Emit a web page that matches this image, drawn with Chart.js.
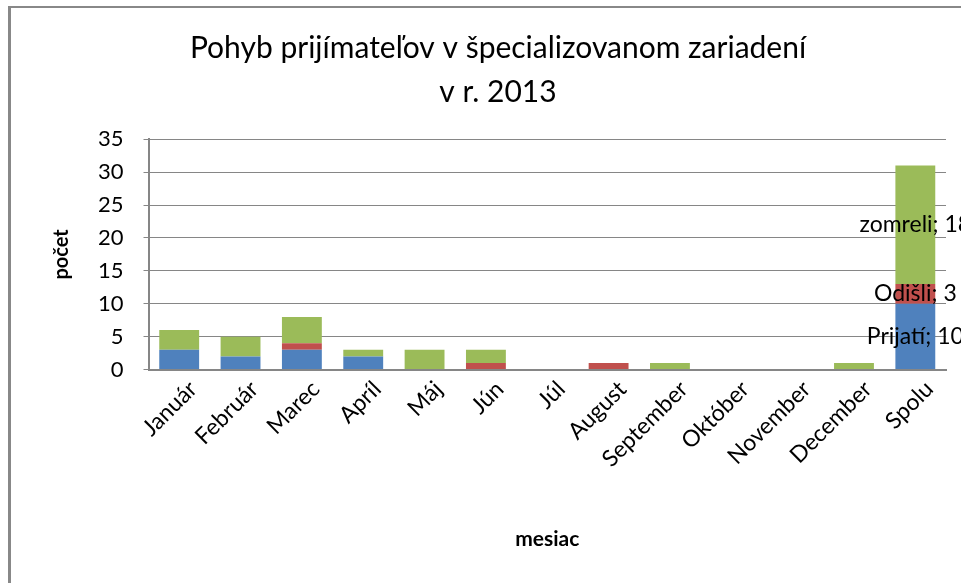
<!DOCTYPE html>
<html>
<head>
<meta charset="utf-8">
<script src="https://cdn.jsdelivr.net/npm/chart.js@4.4.1/dist/chart.umd.min.js"></script>
<style>
  html, body { margin: 0; padding: 0; background: #fff; }
  #wrap { width: 961px; height: 583px; position: relative; }
</style>
</head>
<body>
<div id="wrap"><canvas id="chart"></canvas></div>
<script>
// Data
const months = ['Január', 'Február', 'Marec', 'Apríl', 'Máj', 'Jún', 'Júl',
  'August', 'September', 'Október', 'November', 'December', 'Spolu'];
const prijati = [3, 2, 3, 2, 0, 0, 0, 0, 0, 0, 0, 0, 10];
const odisli  = [0, 0, 1, 0, 0, 1, 0, 1, 0, 0, 0, 0, 3];
const zomreli = [3, 3, 4, 1, 3, 2, 0, 0, 1, 0, 0, 1, 18];
const yTicks = [0, 5, 10, 15, 20, 25, 30, 35];

const FONT = 'Lato, "Open Sans", sans-serif';
const GRAY = '#868686';

// Border round the chart frame (left and top only are visible in the reference)
const frame = {
  id: 'frame',
  beforeDraw(chart) {
    const c = chart.ctx;
    c.save();
    c.fillStyle = '#fff';
    c.fillRect(0, 0, chart.width, chart.height);
    c.fillStyle = '#888888';
    c.fillRect(8, 6, chart.width - 8, 2);
    c.fillRect(8, 6, 3, chart.height - 6);
    c.restore();
  }
};

// Data labels only on the "Spolu" bar, like the Excel original
const spoluLabels = {
  id: 'spoluLabels',
  afterDatasetsDraw(chart) {
    const c = chart.ctx;
    const last = months.length - 1;
    c.save();
    c.font = '23px ' + FONT;
    c.fillStyle = '#000';
    c.textAlign = 'center';
    c.textBaseline = 'middle';
    chart.data.datasets.forEach((ds, i) => {
      const bar = chart.getDatasetMeta(i).data[last];
      if (!bar) return;
      const mid = (bar.y + bar.base) / 2;
      c.fillText(ds.label + '; ' + ds.data[last], bar.x, mid);
    });
    c.restore();
  }
};

new Chart(document.getElementById('chart'), {
  type: 'bar',
  data: {
    labels: months,
    datasets: [
      { label: 'Prijatí', data: prijati, backgroundColor: '#4F81BD' },
      { label: 'Odišli', data: odisli, backgroundColor: '#C0504D' },
      { label: 'zomreli', data: zomreli, backgroundColor: '#9BBB59' }
    ]
  },
  options: {
    responsive: true,
    maintainAspectRatio: false,
    animation: false,
    layout: { padding: { left: 50, right: 15, top: 26, bottom: 21 } },
    datasets: { bar: { categoryPercentage: 1.0, barPercentage: 0.65 } },
    plugins: {
      legend: { display: false },
      tooltip: { enabled: false },
      title: {
        display: true,
        text: ['Pohyb prijímateľov v špecializovanom zariadení', 'v r. 2013'],
        color: '#000',
        font: { family: FONT, size: 30, weight: 'normal', lineHeight: 1.47 },
        padding: { top: 0, bottom: 25 }
      }
    },
    scales: {
      x: {
        stacked: true,
        grid: { display: false, drawTicks: false },
        border: { display: true, color: GRAY, width: 2 },
        ticks: {
          color: '#000',
          font: { family: FONT, size: 23 },
          maxRotation: 45,
          minRotation: 45,
          labelOffset: 14,
          padding: 6
        },
        title: {
          display: true,
          text: 'mesiac',
          color: '#000',
          font: { family: FONT, size: 21, weight: 'bold' },
          padding: { top: 48, bottom: 10 }
        }
      },
      y: {
        stacked: true,
        min: 0,
        max: 35,
        afterBuildTicks(axis) { axis.ticks = yTicks.map(v => ({ value: v })); },
        grid: { color: GRAY, lineWidth: 1, tickLength: 5 },
        border: { display: true, color: GRAY, width: 2 },
        ticks: {
          color: '#000',
          font: { family: FONT, size: 22 },
          padding: 20
        },
        title: {
          display: true,
          text: 'počet',
          color: '#000',
          font: { family: FONT, size: 20, weight: 'bold' },
          padding: { top: 0, bottom: 4 }
        }
      }
    }
  },
  plugins: [frame, spoluLabels]
});
</script>
</body>
</html>
